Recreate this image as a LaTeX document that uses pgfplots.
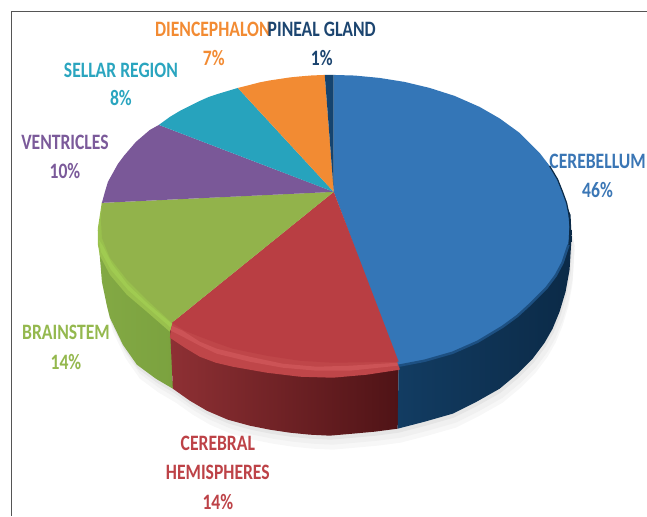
\documentclass[border=0pt]{standalone}
\usepackage{fontspec}
\setmainfont{Carlito}[FakeStretch=0.8,BoldFont=Carlito Bold]
\usepackage{pgfplots}
\usepackage{pgfplotstable}
\pgfplotsset{compat=1.18}
\definecolor{cblue}{HTML}{3476B7}
\definecolor{cred}{HTML}{B93E43}
\definecolor{cgreen}{HTML}{92B34B}
\definecolor{cpurple}{HTML}{7A5898}
\definecolor{cteal}{HTML}{27A3BD}
\definecolor{corange}{HTML}{F28B33}
\definecolor{cnavy}{HTML}{15446F}
\definecolor{tblue}{HTML}{3A76B5}
\definecolor{tred}{HTML}{BD4247}
\definecolor{tgreen}{HTML}{94B84E}
\definecolor{tpurple}{HTML}{7B5A9A}
\definecolor{tteal}{HTML}{2AA5BF}
\definecolor{tnavy}{HTML}{1C4570}
\definecolor{frame}{HTML}{555555}
\definecolor{gs1}{HTML}{83A944}
\definecolor{gs2}{HTML}{6F953C}
\definecolor{gs3}{HTML}{7BA23F}
\definecolor{grim1}{HTML}{99C04D}
\definecolor{grim2}{HTML}{A0CB51}
\definecolor{rs1}{HTML}{8E3034}
\definecolor{rs2}{HTML}{6E2125}
\definecolor{rs3}{HTML}{4F1316}
\definecolor{rrim1}{HTML}{BF4649}
\definecolor{rrim2}{HTML}{CC5356}
\definecolor{bs1}{HTML}{123C62}
\definecolor{bs2}{HTML}{0B2A47}
\definecolor{bedge}{HTML}{1D5082}
\pgfplotstableread{
x y
100 258
102 282
107 306
110 318
123 345
137 365
156 379
173 389
190 401
207 411
228 420
250 426
270 430
290 433
310 435
330 436
353 434
375 432
398 429
425 422
453 414
477 402
500 389
518 374
533 359
545 343
553 329
560 312
566 292
570 270
572 237
568 215
330 150
100 230
}\outline
\newcommand{\lab}[4]{\node[text=#1,font=\fontsize{22}{22}\selectfont\bfseries,inner sep=0pt,anchor=center] at (axis cs:#2,#3) {#4};}
\begin{document}
\begin{tikzpicture}
\begin{axis}[
  scale only axis,width=647pt,height=516pt,
  xmin=0,xmax=647,ymin=0,ymax=516,y dir=reverse,
  hide axis,clip=false,
  no markers,
]
% shadow
\addplot[draw=none,fill=black!3,xshift=3pt,yshift=-14pt] table {\outline};
\addplot[draw=none,fill=black!6,xshift=3pt,yshift=-9pt] table {\outline};
\addplot[draw=none,fill=black!10,xshift=1pt,yshift=-4pt] table {\outline};
% side walls
\addplot[draw=none,left color=gs1,middle color=gs2,right color=gs3] coordinates {(98,230)(100,258)(102,282)(107,306)(110,318)(123,345)(137,365)(156,379)(173,389)(172,325)(140,300)(112,265)(98,230)};
\addplot[draw=none,left color=rs1,middle color=rs2,right color=rs3] coordinates {(170,325)(173,389)(190,401)(207,411)(228,420)(250,426)(270,430)(290,433)(310,435)(330,436)(353,434)(375,432)(398,429)(399,360)(330,360)(233,350)(170,325)};
\addplot[draw=none,left color=bs1,middle color=bs2,right color=bs2] coordinates {(399,360)(398,429)(425,422)(453,414)(477,402)(500,389)(518,374)(533,359)(545,343)(553,329)(560,312)(566,292)(570,270)(572,237)(571,215)(560,190)(540,250)(399,360)};
% rims
\addplot[draw=none,fill=grim1] coordinates {(102,202)(98,228)(98,245)(100,256)(110,275)(127,295)(147,312)(170,332)(175,318)(150,296)(130,276)(114,255)(106,236)(105,220)(102,202)};
\addplot[draw=none,fill=grim2] coordinates {(99,240)(101,252)(111,270)(128,290)(148,308)(171,328)(172,324)(148,304)(128,285)(112,264)(103,246)(99,240)};
\addplot[draw=none,fill=rrim1] coordinates {(170,338)(185,348)(200,357)(216,363)(233,367)(250,370)(267,373)(300,377)(333,378)(367,375)(400,370)(398,355)(333,358)(300,357)(267,352)(233,345)(216,339)(200,333)(185,327)(173,320)(170,338)};
\addplot[draw=none,fill=rrim2] coordinates {(171,331)(183,337)(200,346)(217,354)(250,362)(283,368)(317,371)(350,371)(398,366)(398,363)(350,366)(317,367)(283,364)(250,357)(217,349)(200,342)(183,331)(172,326)(171,331)};
% top faces
\addplot[draw=none,fill=cblue] coordinates {(334,192)(334,75)(355,75.6)(380,78)(405,82)(430,88)(455,96)(480,107)(500,118.5)(520,133)(530,143)(540,153)(550,166)(558,179.5)(563,192)(567,203)(569,215)(570,227)(569,245)(563,263)(556,276)(547,288)(530,305)(518,316)(503,327)(478,342)(453,353)(425,361)(399,366)(334,192)};
\addplot[draw=none,fill=cred] coordinates {(334,192)(399,362)(333,363)(300,361)(267,356)(233,349)(216,343)(200,337)(185,331)(172,323)(334,192)};
\addplot[draw=none,fill=cgreen] coordinates {(334,192)(172,323)(147,300)(127,280)(110,258)(102,238)(101,220)(102,203)(334,192)};
\addplot[draw=none,fill=cpurple] coordinates {(334,192)(102,203)(105,192)(108,182)(113,173)(118,164)(124,156)(130,149)(136,142)(143,136)(150,130)(159,125)(334,192)};
\addplot[draw=none,fill=cteal] coordinates {(334,192)(159,125)(170,117)(180,111)(190,106)(200,101)(209,97)(218,94)(228,91)(238,88)(334,192)};
\addplot[draw=none,fill=corange] coordinates {(334,192)(238,88)(250,85)(260,82.4)(270,80.5)(280,79)(290,77.5)(300,76.5)(312,75.5)(325,75)(334,192)};
\addplot[draw=none,fill=cnavy] coordinates {(334,192)(325,75)(334,75)(334,192)};
% soft edge of the blue face
\addplot[draw=bedge,line width=2.5pt] coordinates {(569,245)(563,263)(556,276)(547,288)(530,305)(518,316)(503,327)(478,342)(453,353)(425,361)(399,366)};
\addplot[draw=bs2,line width=1.2pt] coordinates {(550,166)(558,179.5)(563,192)(567,203)(569.5,215)(570.5,227)(569.5,245)};
% frame
\addplot[draw=frame,line width=1pt] coordinates {(11.5,516)(11.5,11.5)(647,11.5)};
\lab{corange}{213}{29}{DIENCEPHALON}
\lab{corange}{214}{58}{7\%}
\lab{tnavy}{322}{29}{PINEAL GLAND}
\lab{tnavy}{322}{58}{1\%}
\lab{tteal}{121}{70}{SELLAR REGION}
\lab{tteal}{121}{98}{8\%}
\lab{tpurple}{65}{142}{VENTRICLES}
\lab{tpurple}{65}{171}{10\%}
\lab{tblue}{598}{161}{CEREBELLUM}
\lab{tblue}{598}{190}{46\%}
\lab{tgreen}{66}{333}{BRAINSTEM}
\lab{tgreen}{66}{362}{14\%}
\lab{tred}{218}{444}{CEREBRAL}
\lab{tred}{218}{473}{HEMISPHERES}
\lab{tred}{218}{502}{14\%}
\end{axis}
\useasboundingbox (0,0) rectangle (647pt,516pt);
\end{tikzpicture}
\end{document}
